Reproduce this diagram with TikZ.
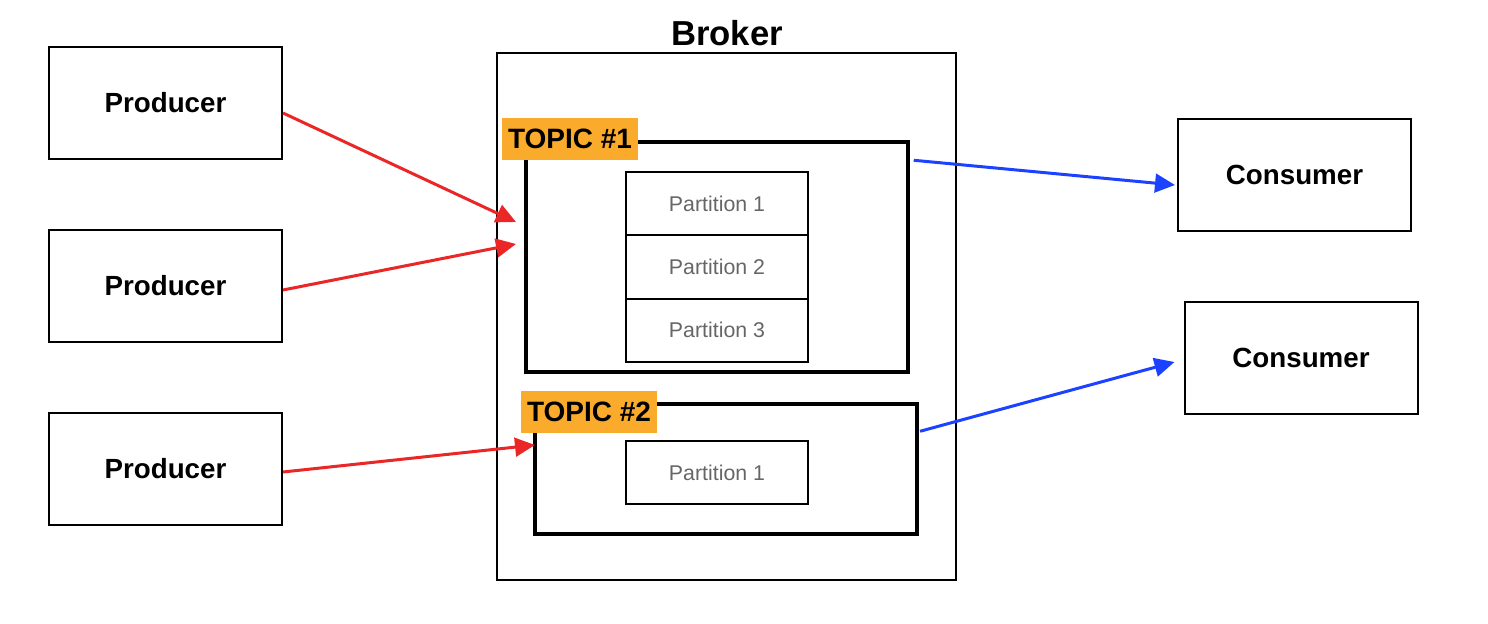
\documentclass[tikz,border=0pt]{standalone}
\usepackage{fontspec}
\setmainfont{Liberation Sans}
\usetikzlibrary{arrows.meta,positioning}

\definecolor{topicorange}{RGB}{251,171,43}
\definecolor{sendred}{RGB}{234,38,38}
\definecolor{readblue}{RGB}{28,66,255}
\definecolor{partgray}{RGB}{102,102,102}

\tikzset{every picture/.style={line width=0.75pt}}
\tikzset{
  clientbox/.style={draw, line width=1.5pt, minimum width=174.75pt, minimum height=84pt, inner sep=0pt,
    font=\bfseries\fontsize{20.8}{24}\selectfont},
  topicbox/.style={draw, line width=2.6pt, minimum width=286.5pt, inner sep=0pt},
  topiclabel/.style={fill=topicorange, minimum width=102pt, minimum height=31.5pt, inner sep=0pt,
    font=\bfseries\fontsize{21}{24}\selectfont},
  partbox/.style={draw, line width=1.5pt, minimum width=136.5pt, minimum height=47.5pt, inner sep=0pt, outer sep=0pt,
    text=partgray, font=\fontsize{16}{19}\selectfont},
  sendarrow/.style={draw=sendred, line width=2.25pt, -{Triangle[length=15pt,width=14pt]}},
  readarrow/.style={draw=readblue, line width=2.25pt, -{Triangle[length=15pt,width=14pt]}},
}

\begin{document}
\begin{tikzpicture}[x=0.75pt,y=0.75pt,yscale=-1,xscale=1]
\useasboundingbox (0,0) rectangle (1488,624);

%Broker
\node [draw, line width=1.5pt, minimum width=344.25pt, minimum height=395.25pt] (broker) at (726.5,316.5) {};
% Text Node
\node [font=\bfseries\fontsize{26}{30}\selectfont] (brokerlabel) at (727,33) {Broker};

%Producers
\node [clientbox] (prodA) at (165.5,103) {Producer};
\node [clientbox] (prodB) at (165.5,286) {Producer};
\node [clientbox] (prodC) at (165.5,469) {Producer};

%Consumers
\node [clientbox] (consA) at (1294.5,175) {Consumer};
\node [clientbox] (consB) at (1301,358) {Consumer};

%Topic #1 with its partitions
\node [topicbox, minimum height=172.5pt] (topicA) at (717,257) {};
\node [partbox] (partA) at (717,203.5) {Partition 1};
\node [partbox, below=0pt of partA] (partB) {Partition 2};
\node [partbox, below=0pt of partB] (partC) {Partition 3};
\node [topiclabel] (topicAlabel) at (570,139) {TOPIC \#1};

%Topic #2
\node [topicbox, minimum height=97.5pt] (topicB) at (726,469) {};
\node [partbox] (partD) at (717,472.5) {Partition 1};
\node [topiclabel] (topicBlabel) at (589,412) {TOPIC \#2};

%Arrows in
\coordinate (inA) at (516,222);
\coordinate (inB) at (516,244);
\coordinate (inC) at (535,445);
\draw [sendarrow] ([yshift=7.5pt]prodA.east) -- (inA);
\draw [sendarrow] ([yshift=3pt]prodB.east) -- (inB);
\draw [sendarrow] ([yshift=2.25pt]prodC.east) -- (inC);

%Arrows out
\draw [readarrow] ([xshift=3pt,yshift=15pt]topicA.north east) -- ([xshift=-1.5pt,yshift=7.5pt]consA.west);
\draw [readarrow] ([xshift=1pt,yshift=21.75pt]topicB.north east) -- ([xshift=-6.75pt,yshift=3pt]consB.west);

\end{tikzpicture}
\end{document}
